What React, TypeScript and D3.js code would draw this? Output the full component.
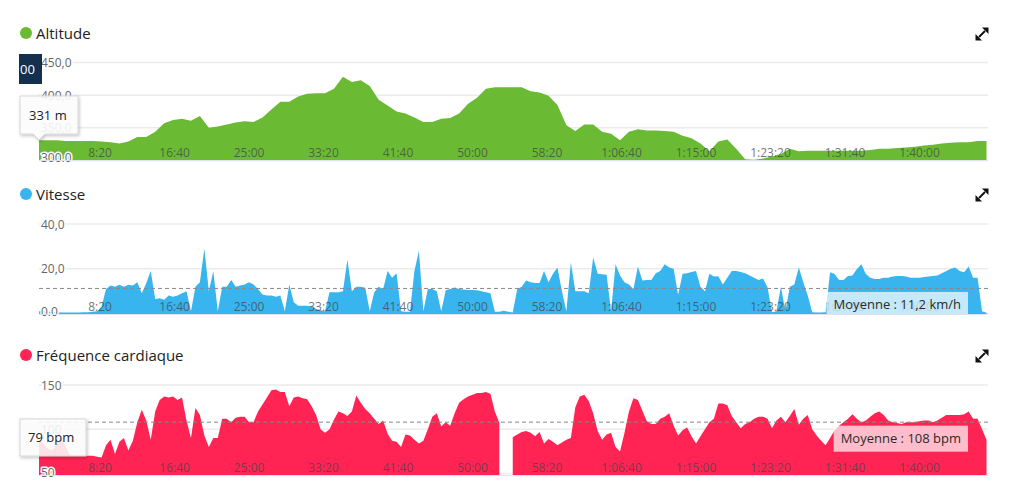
import React, { useLayoutEffect, useRef, useState } from 'react';
import * as d3 from 'd3';

// ---- data ----
const T0 = 90; // seconds at first sample
const ALT_STEP = 60; // seconds between altitude samples
const STEP = 30; // seconds between speed / heart samples
const T_END = 6460;

const altitude = [
  331, 331, 331, 330, 330, 330, 330, 329, 328, 326,
  329, 336, 336, 344, 357, 362, 364, 361, 368, 350,
  352, 355, 358, 360, 359, 366, 378, 390, 390, 398,
  402, 403, 403, 410, 428, 420, 423, 414, 393, 384,
  375, 372, 366, 359, 359, 364, 365, 372, 387, 396,
  410, 412, 412, 412, 412, 406, 404, 399, 385, 354,
  345, 355, 355, 344, 341, 331, 344, 348, 346, 346,
  345, 344, 338, 334, 326, 314, 329, 332, 318, 302,
  301, 303, 306, 310, 318, 314, 315, 315, 315, 315,
  315, 315, 315, 316, 318, 318, 319, 320, 321, 323,
  324, 326, 327, 328, 328, 330, 330,
];

const speed = [
  1, 1, 0.8, 0.8, 0.6, 0.5, 0.5, 0.5, 0.5, 0.5,
  0.6, 0.6, 0.8, 1, 3, 11, 12.5, 12, 12.8, 12,
  12.8, 12.5, 14, 9, 13.5, 19, 6.5, 6.8, 6.2, 8,
  7.5, 8, 9, 10, 1, 12, 14, 29, 10, 19,
  1, 12, 12, 15, 12, 12.5, 13, 14, 13, 11,
  8.5, 8, 8, 7.5, 8, 1, 13, 5, 3.5, 3.5,
  3.5, 3, 2, 1.5, 1, 9.5, 9.5, 9.5, 10, 24,
  10, 12, 12, 11.5, 1, 9.5, 12, 11, 19, 16,
  18, 1, 0.8, 0.8, 19, 28, 1, 11, 11, 10,
  1, 10.4, 11, 11.6, 11, 10.7, 10.5, 10.5, 10.4, 10,
  9.5, 9, 0.8, 0.8, 1.2, 0.8, 0.5, 11, 12, 14.7,
  14, 13.6, 13.6, 19, 14, 17.8, 20.6, 10, 1, 22.8,
  10, 10, 10, 9, 25, 17.8, 17.5, 17.3, 1, 22,
  17, 14, 13, 11, 21, 14.7, 15, 15, 18, 19,
  22, 20.6, 20, 8.4, 17.8, 18, 18.5, 19, 12, 10,
  17.8, 16.5, 16.6, 13, 16, 19, 19, 18.5, 18, 17,
  16, 15, 15.6, 11.7, 0.6, 1, 12, 1, 12, 13,
  20.6, 14, 8, 0.6, 0.5, 0.5, 0.6, 18.4, 17.6, 15,
  15, 16.8, 17, 19.9, 22, 17.6, 16, 15.4, 15.4, 16,
  16, 16.5, 16.8, 16.8, 16.5, 16, 16, 16, 16.3, 16.5,
  16.8, 17, 18, 19, 20, 20.6, 19, 18.4, 21, 16,
  16, 1, 0.3,
];

const heart: (number | null)[] = [
  88, 84, 78, 76, 84, 91, 80, 70, 70, 70,
  70, 70, 70, 69, 68, 82, 88, 72, 86, 90,
  76, 87, 108, 122, 110, 88, 120, 133, 137, 136,
  137, 133, 136, 110, 90, 124, 116, 93, 80, 90,
  90, 112, 112, 108, 113, 114, 114, 108, 108, 120,
  128, 136, 144, 145, 142, 142, 126, 136, 137, 135,
  134, 126, 116, 100, 96, 100, 111, 120, 118, 115,
  120, 138, 130, 123, 118, 112, 106, 110, 95, 87,
  86, 80, 94, 93, 88, 84, 87, 100, 114, 118,
  103, 108, 104, 118, 130, 134, 137, 139, 141, 141,
  142, 140, 120, 107, null, null, 91, 94, 97, 98,
  96, 92, 97, 84, 89, 86, 82, 85, 88, 90,
  125, 137, 139, 132, 118, 98, 88, 94, 96, 80,
  75, 96, 120, 135, 133, 121, 109, 106, 106, 112,
  114, 118, 104, 93, 99, 102, 92, 84, 92, 100,
  108, 112, 129, 129, 127, 115, 108, 101, 106, 108,
  112, 114, 114, 112, 101, 110, 114, 108, 115, 123,
  105, 112, 116, 100, 93, 87, 82, 90, 99, 104,
  108, 112, 117, 112, 108, 110, 114, 118, 120, 116,
  110, 108, 107, 106, 108, 108, 108, 109, 110, 110,
  108, 110, 113, 116, 116, 116, 116, 117, 120, 112,
  112, 100, 88,
];

const timeTicks = [500, 1000, 1500, 2000, 2500, 3000, 3500, 4000, 4500, 5000, 5500, 6000];
const altTicks = [450, 400, 350, 300];
const speedTicks = [40, 20, 0];
const heartTicks = [150, 100, 50];
const speedMean = 11.2;
const heartMean = 108;
const altTooltip = '331 m';
const heartTooltip = '79 bpm';

// ---- helpers ----
const pad = (n: number) => String(n).padStart(2, '0');
const fmtTime = (s: number) => {
  const h = Math.floor(s / 3600);
  const m = Math.floor((s % 3600) / 60);
  const sec = s % 60;
  return h > 0 ? `${h}:${pad(m)}:${pad(sec)}` : `${m}:${pad(sec)}`;
};
const fmtDec = (v: number) => v.toFixed(1).replace('.', ',');
const fmtInt = (v: number) => String(v);

const FONT = '"Open Sans", "DejaVu Sans", sans-serif';
const X0 = 39;
const X1 = 988;
const x = d3.scaleLinear().domain([T0, T_END]).range([X0, X1]);

type Panel = {
  id: string;
  title: string;
  color: string;
  titleY: number;
  top: number;
  bottom: number;
  y: d3.ScaleLinear<number, number>;
  ticks: number[];
  fmt: (v: number) => string;
  data: (number | null)[];
  step: number;
  tickY: number;
  mean?: number;
  meanLabel?: string;
};

const panels: Panel[] = [
  {
    id: 'alt', title: 'Altitude', color: '#6aba34', titleY: 33, top: 50, bottom: 160,
    y: d3.scaleLinear().domain([300, 450]).range([160.5, 62.5]),
    ticks: altTicks, fmt: fmtDec, data: altitude, step: ALT_STEP, tickY: 152,
  },
  {
    id: 'spd', title: 'Vitesse', color: '#38b5ee', titleY: 194, top: 210, bottom: 314,
    y: d3.scaleLinear().domain([0, 40]).range([313.5, 224]),
    ticks: speedTicks, fmt: fmtDec, data: speed, step: STEP, tickY: 306,
    mean: speedMean, meanLabel: `Moyenne : ${fmtDec(speedMean)} km/h`,
  },
  {
    id: 'hr', title: 'Fréquence cardiaque', color: '#ff2453', titleY: 355, top: 372, bottom: 475,
    y: d3.scaleLinear().domain([50, 150]).range([473.5, 385]),
    ticks: heartTicks, fmt: fmtInt, data: heart, step: STEP, tickY: 467,
    mean: heartMean, meanLabel: `Moyenne : ${heartMean} bpm`,
  },
];

function MeanLabel({ yPos, text }: { yPos: number; text: string }) {
  const ref = useRef<SVGTextElement>(null);
  const [w, setW] = useState(130);
  useLayoutEffect(() => {
    if (ref.current) setW(ref.current.getComputedTextLength());
  }, [text]);
  const right = 968;
  const boxW = w + 14;
  return (
    <g>
      <rect x={right - boxW} y={yPos + 3.5} width={boxW} height={26} fill="rgba(255,255,255,0.7)" />
      <text ref={ref} x={right - 7} y={yPos + 16} textAnchor="end" dominantBaseline="central"
        fontFamily={FONT} fontSize={13} fill="#2a2a2a">{text}</text>
    </g>
  );
}

function ExpandIcon({ cx, cy }: { cx: number; cy: number }) {
  return (
    <g fill="#111" stroke="#111">
      <line x1={cx - 3} y1={cy + 3} x2={cx + 3} y2={cy - 3} strokeWidth={2} />
      <path d={`M${cx - 6.5},${cy + 6.5} L${cx - 6.5},${cy} L${cx},${cy + 6.5} Z`} stroke="none" />
      <path d={`M${cx + 6.5},${cy - 6.5} L${cx + 6.5},${cy} L${cx},${cy - 6.5} Z`} stroke="none" />
    </g>
  );
}

function PanelView({ p }: { p: Panel }) {
  const area = d3
    .area<number | null>()
    .defined((d) => d != null)
    .x((_, i) => x(T0 + i * p.step))
    .y0(p.bottom)
    .y1((d) => p.y(d as number));
  const clipId = `clip-${p.id}`;
  const labelClipId = `lclip-${p.id}`;
  return (
    <g>
      <defs>
        <clipPath id={clipId}>
          <rect x={X0} y={p.top} width={X1 - X0} height={p.bottom - p.top} />
        </clipPath>
        <clipPath id={labelClipId}>
          <rect x={X0} y={p.top} width={X1 - X0} height={p.bottom - p.top + 2} />
        </clipPath>
      </defs>
      {/* title */}
      <circle cx={26} cy={p.titleY} r={6} fill={p.color} />
      <text x={36} y={p.titleY} dominantBaseline="central" fontFamily={FONT} fontSize={15} fill="#222">
        {p.title}
      </text>
      <ExpandIcon cx={982} cy={p.titleY + 1} />
      {/* grid */}
      {p.ticks.map((t) => (
        <line key={t} x1={X0} x2={X1} y1={p.y(t)} y2={p.y(t)} stroke="#ebebeb" strokeWidth={1.5} />
      ))}
      <g clipPath={`url(#${clipId})`}>
        <path d={area(p.data) || ''} fill={p.color} />
        {p.mean != null && (
          <line x1={X0} x2={X1} y1={p.y(p.mean)} y2={p.y(p.mean)} stroke="#888" strokeWidth={1}
            strokeDasharray="4,3" />
        )}
        {timeTicks.map((t) => (
          <text key={t} x={x(t)} y={p.tickY} textAnchor="middle" dominantBaseline="central"
            fontFamily={FONT} fontSize={12} fill="rgba(70,70,70,0.75)">
            {fmtTime(t)}
          </text>
        ))}
        {p.mean != null && p.meanLabel && <MeanLabel yPos={p.y(p.mean)} text={p.meanLabel} />}
      </g>
      <g clipPath={`url(#${labelClipId})`}>
        {p.ticks.map((t) => (
          <text key={t} x={41} y={Math.min(p.y(t), p.bottom - 3)} dominantBaseline="central" fontFamily={FONT}
            fontSize={12} fill="#666" stroke="#fff" strokeWidth={3} paintOrder="stroke" strokeLinejoin="round">
            {p.fmt(t)}
          </text>
        ))}
      </g>
      <line x1={X0} x2={X1} y1={p.bottom + 0.5} y2={p.bottom + 0.5} stroke="#dde4ee" strokeWidth={1} />
    </g>
  );
}

export default function App() {
  const alt = panels[0];
  return (
    <svg width={1023} height={499} style={{ position: 'absolute', left: 0, top: 0, background: '#fff' }}>
      <defs>
        <filter id="shadow" x="-20%" y="-20%" width="150%" height="150%">
          <feDropShadow dx={1} dy={1.5} stdDeviation={1.5} floodColor="#000" floodOpacity={0.25} />
        </filter>
      </defs>
      <rect x={0} y={0} width={1023} height={499} fill="#fff" />
      {panels.map((p) => (
        <PanelView key={p.id} p={p} />
      ))}
      {/* altitude crosshair label (cut) */}
      <rect x={19} y={54} width={23} height={30} fill="#14304f" />
      <text x={20} y={69} dominantBaseline="central" fontFamily={FONT} fontSize={13} fill="#fff">00</text>
      {/* altitude tooltip */}
      <g filter="url(#shadow)">
        <path d={`M20,96 H78 V134 H45 L39,${alt.y(altitude[0]) - 0.5} L33,134 H20 Z`}
          fill="rgba(255,255,255,0.88)" stroke="#d6d6d6" strokeWidth={1} />
      </g>
      <text x={29} y={115} dominantBaseline="central" fontFamily={FONT} fontSize={13} fill="#222">{altTooltip}</text>
      {/* heart tooltip */}
      <g filter="url(#shadow)">
        <rect x={20} y={419} width={66} height={37} fill="rgba(255,255,255,0.85)" stroke="#d6d6d6" strokeWidth={1} />
      </g>
      <text x={28} y={437} dominantBaseline="central" fontFamily={FONT} fontSize={13} fill="#222">{heartTooltip}</text>
    </svg>
  );
}
